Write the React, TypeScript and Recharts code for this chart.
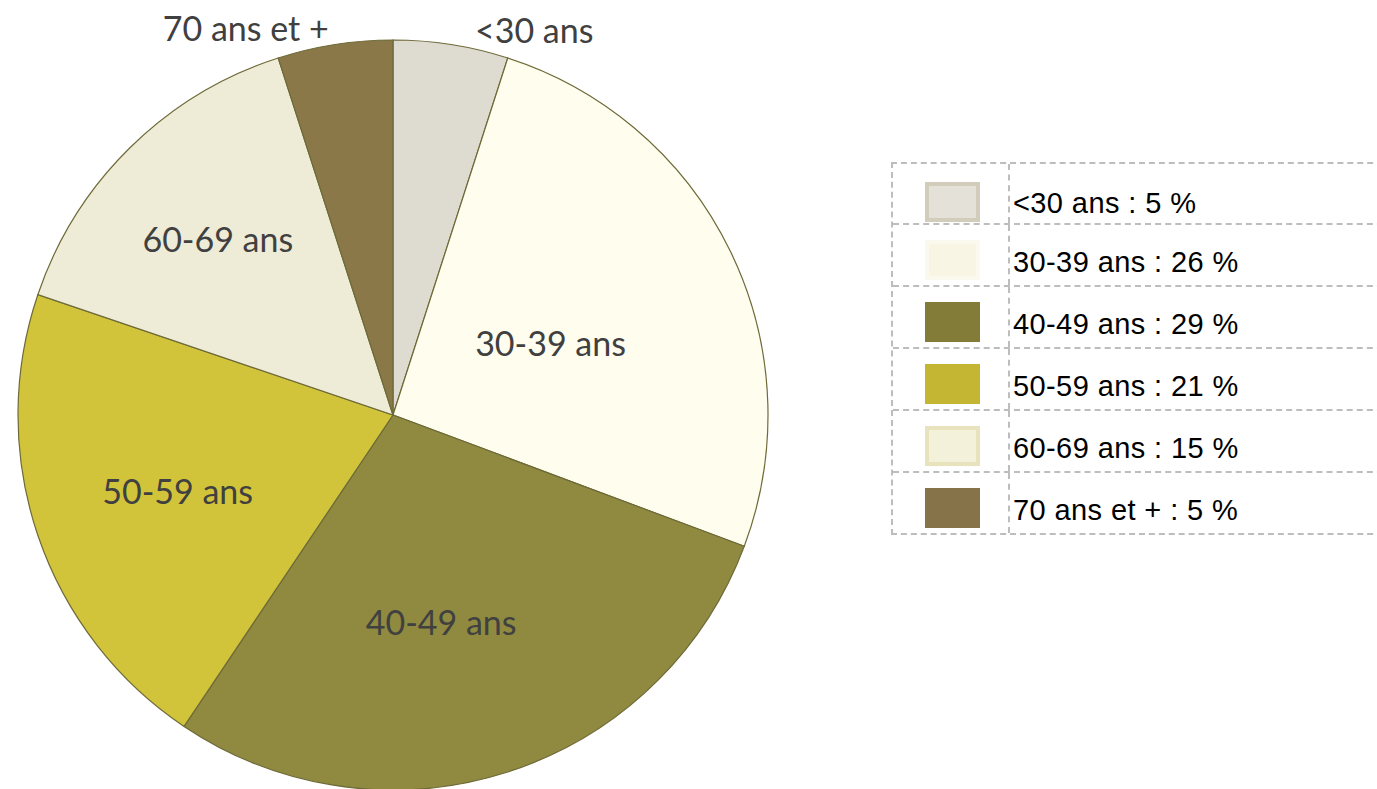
import React from "react";
import { PieChart, Pie, Cell, Legend } from "recharts";

const CATEGORIES = ["<30 ans", "30-39 ans", "40-49 ans", "50-59 ans", "60-69 ans", "70 ans et +"];
const VALUES = [5, 26, 29, 21, 15, 5];
const LEGEND_LABELS = ["<30 ans : 5 %", "30-39 ans : 26 %", "40-49 ans : 29 %", "50-59 ans : 21 %", "60-69 ans : 15 %", "70 ans et + : 5 %"];
const FILLS = ["#DEDBD1", "#FEFDEE", "#8F8A40", "#D2C43A", "#EEECD7", "#8A7848"];
const SWATCH_FILLS = ["#E4E1D8", "#F8F5E4", "#827C38", "#C4B532", "#F3F1DA", "#86734A"];
const SWATCH_BORDERS = ["#D2CCBB", "#FBF9EE", "#827C38", "#C4B532", "#E8E3BC", "#86734A"];

// label placement: radius factor and clockwise angle offset (degrees) relative to slice middle
const LABEL_RADIUS = [1.09, 0.46, 0.57, 0.61, 0.66, 1.1];
const LABEL_ANGLE_SHIFT = [11.3, 1.8, 4.8, -1, -0.5, -12];

const data = CATEGORIES.map((name, i) => ({ name, value: VALUES[i], legend: LEGEND_LABELS[i] }));

const RAD = Math.PI / 180;

const renderLabel = (props: any) => {
  const { cx, cy, midAngle, outerRadius, index } = props;
  const a = midAngle - LABEL_ANGLE_SHIFT[index];
  const r = outerRadius * LABEL_RADIUS[index];
  const x = cx + r * Math.cos(-a * RAD);
  const y = cy + r * Math.sin(-a * RAD);
  return (
    <text
      x={x}
      y={y - 2}
      textAnchor="middle"
      dominantBaseline="central"
      fill="#404040"
      style={{ fontFamily: "Lato, 'Open Sans', sans-serif", fontSize: 34 }}
    >
      {CATEGORIES[index]}
    </text>
  );
};

const dash = "2px dashed #BDBDBD";

const LegendBox = () => (
  <div
    style={{
      width: 500,
      borderTop: dash,
      borderLeft: dash,
      borderBottom: dash,
      fontFamily: "'Liberation Sans', Arial, sans-serif",
      fontSize: 29,
      color: "#000",
    }}
  >
    {LEGEND_LABELS.map((label, i) => (
      <div
        key={i}
        style={{
          display: "flex",
          height: i === 0 ? 59 : 62,
          borderTop: i === 0 ? "none" : dash,
          boxSizing: "border-box",
          overflow: "hidden",
        }}
      >
        <div style={{ width: 115, borderRight: dash, position: "relative", flexShrink: 0 }}>
          <div
            style={{
              position: "absolute",
              left: 32,
              top: i === 0 ? 18 : 15,
              width: 55,
              height: 40,
              boxSizing: "border-box",
              background: SWATCH_FILLS[i],
              border: `4px solid ${SWATCH_BORDERS[i]}`,
            }}
          />
        </div>
        <div style={{ paddingLeft: 3, paddingTop: i === 0 ? 24 : 22, lineHeight: "30px", whiteSpace: "pre", letterSpacing: 0.4 }}>{label}</div>
      </div>
    ))}
  </div>
);

export default function App() {
  return (
    <div style={{ position: "absolute", left: 0, top: 0, width: 1377, height: 789, background: "#fff", overflow: "hidden" }}>
      <PieChart width={1377} height={789} margin={{ top: 0, right: 0, bottom: 0, left: 0 }}>
        <Pie
          data={data}
          dataKey="value"
          nameKey="name"
          cx={393}
          cy={415}
          outerRadius={375}
          startAngle={90}
          endAngle={-270}
          stroke="#6E6A38"
          strokeWidth={1.2}
          label={renderLabel}
          labelLine={false}
          isAnimationActive={false}
        >
          {data.map((d, i) => (
            <Cell key={d.name} fill={FILLS[i]} />
          ))}
        </Pie>
        <Legend
          content={() => <LegendBox />}
          wrapperStyle={{ position: "absolute", left: 891, top: 162, width: 500 }}
        />
      </PieChart>
    </div>
  );
}
